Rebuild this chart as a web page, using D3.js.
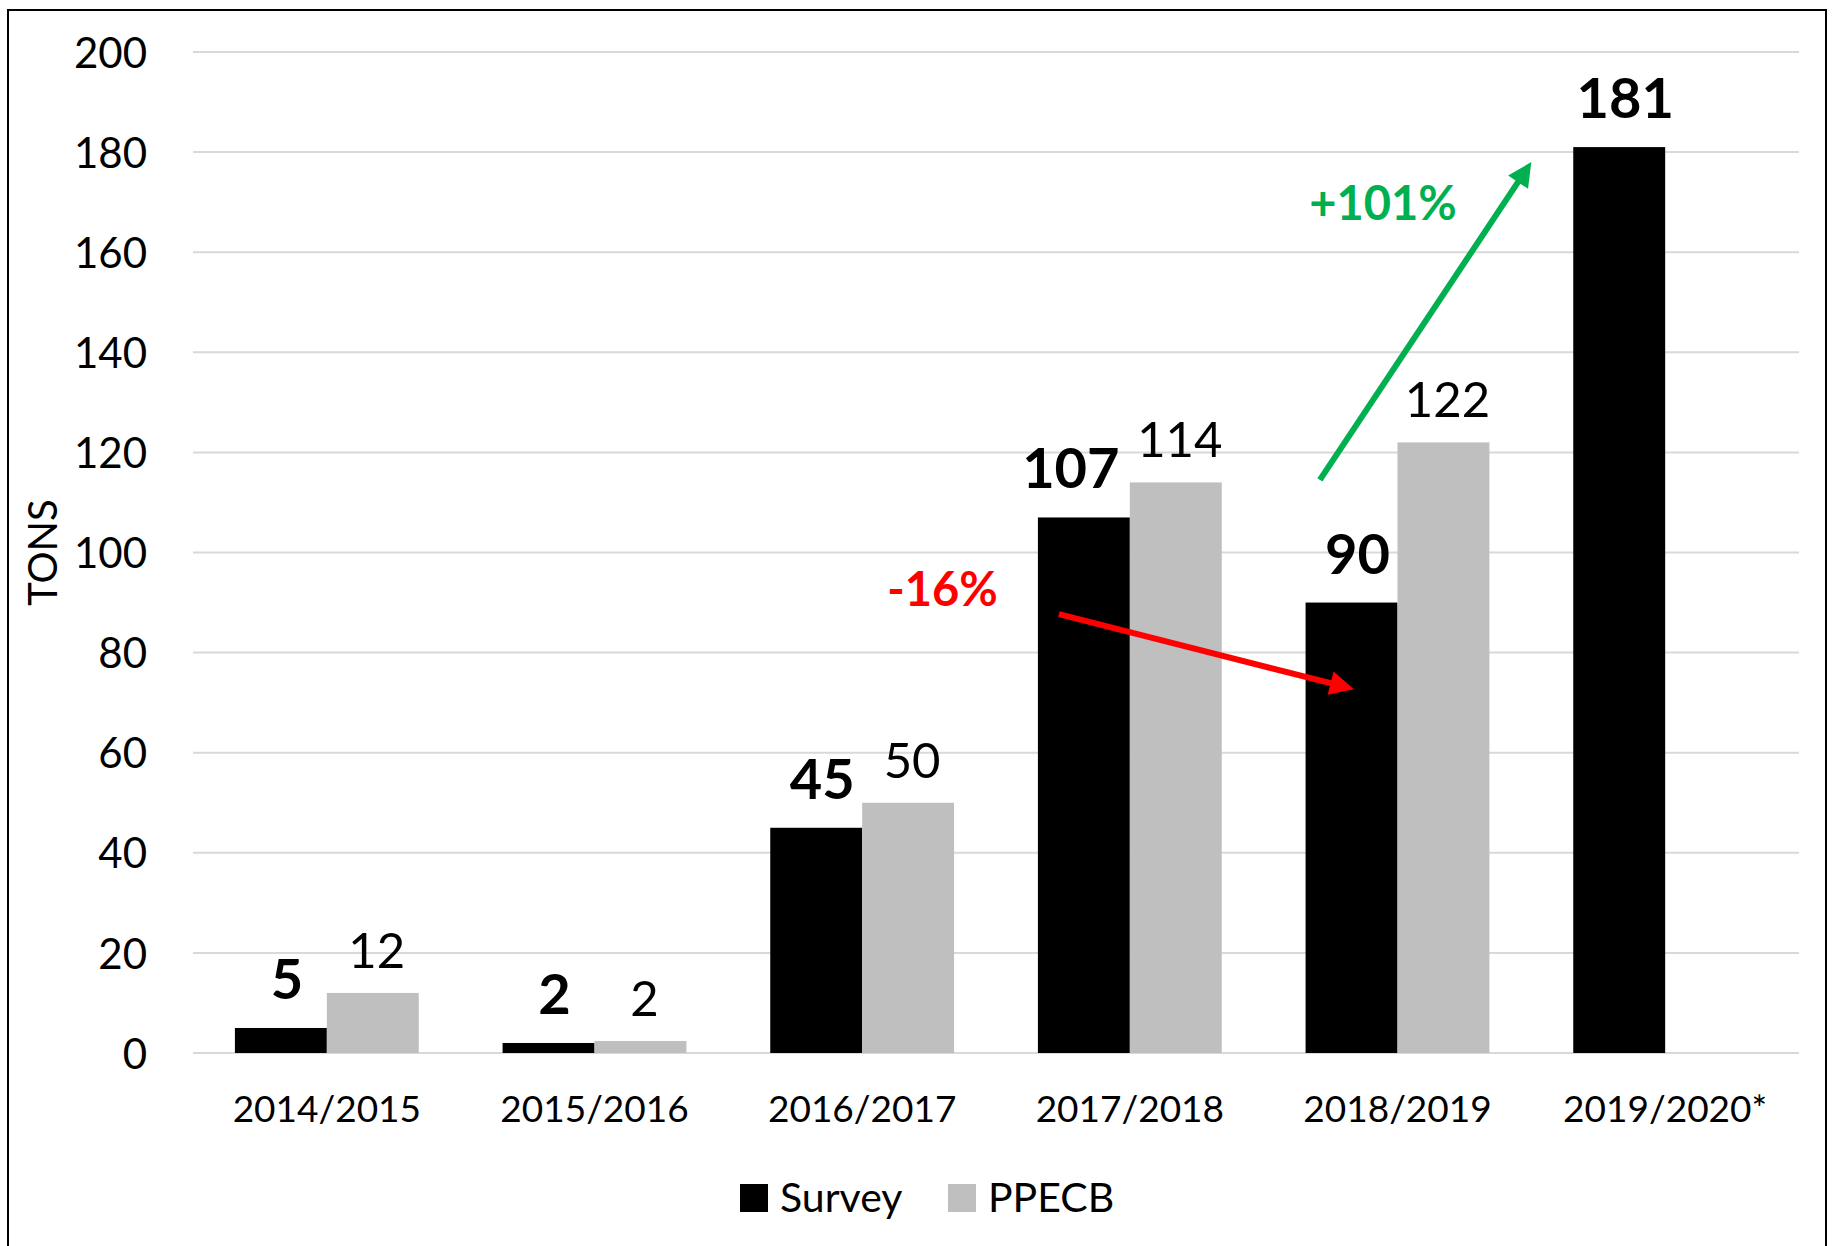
<!DOCTYPE html>
<html>
<head>
<meta charset="utf-8">
<script src="https://cdn.jsdelivr.net/npm/d3@7"></script>
<style>
  html, body { margin: 0; padding: 0; background: #fff; }
  svg { display: block; }
  text { font-family: Lato, "Open Sans", sans-serif; }
</style>
</head>
<body>
<svg id="chart" width="1835" height="1246"></svg>
<script>
// ---------- data ----------
const categories = ["2014/2015", "2015/2016", "2016/2017", "2017/2018", "2018/2019", "2019/2020*"];
const seriesNames = ["Survey", "PPECB"];
const surveyValues = [5, 2, 45, 107, 90, 181];
const ppecbValues = [12, 2.4, 50, 114, 122, null];
const yTicks = [0, 20, 40, 60, 80, 100, 120, 140, 160, 180, 200];
const seriesColors = ["#000000", "#BFBFBF"];
// annotations (positions in category-index / value space)
const changeArrows = [
  { label: "-16%",  color: "#FF0000", from: [3.235, 87.7], to: [4.337, 72.7], text: [2.80, 89.3] },
  { label: "+101%", color: "#00B050", from: [4.21, 114.5], to: [5.0, 178.0], text: [4.446, 166.4] }
];

// ---------- layout ----------
const svg = d3.select("#chart");
const plot = { left: 193, right: 1799, top: 52, bottom: 1053 };

// frame
svg.append("rect")
  .attr("x", 8).attr("y", 10).attr("width", 1818).attr("height", 1260)
  .attr("fill", "none").attr("stroke", "#000").attr("stroke-width", 2);

const x = d3.scaleBand().domain(categories).range([plot.left, plot.right]).paddingInner(0).paddingOuter(0);
const xs = d3.scaleBand().domain(seriesNames).range([0, x.bandwidth()]).paddingInner(0).paddingOuter(0.456);
const y = d3.scaleLinear().domain([0, 200]).range([plot.bottom, plot.top]);
const xi = d3.scaleLinear().domain([0, categories.length]).range([plot.left, plot.right]);

// gridlines
svg.append("g").selectAll("line").data(yTicks).join("line")
  .attr("x1", plot.left).attr("x2", plot.right)
  .attr("y1", d => y(d)).attr("y2", d => y(d))
  .attr("stroke", "#D9D9D9").attr("stroke-width", 2);

// y axis labels
const yAxis = d3.axisLeft(y).tickValues(yTicks).tickSize(0).tickPadding(0);
const gy = svg.append("g").attr("transform", `translate(147,0)`).call(yAxis);
gy.select(".domain").remove();
gy.selectAll("text").attr("font-size", 42).attr("fill", "#000")
  .style("font-family", "Lato, 'Open Sans', sans-serif").attr("dy", "0.36em");

// y title
svg.append("text")
  .attr("transform", `translate(57,${(plot.top + plot.bottom) / 2}) rotate(-90)`)
  .attr("text-anchor", "middle").attr("font-size", 40).attr("fill", "#000")
  .text("TONS");

// x axis labels
const xAxis = d3.axisBottom(x).tickSize(0).tickPadding(0);
const gx = svg.append("g").attr("transform", `translate(0,1122)`).call(xAxis);
gx.select(".domain").remove();
gx.selectAll("text").attr("font-size", 37).attr("fill", "#000").attr("dy", 0)
  .style("font-family", "Lato, 'Open Sans', sans-serif");

// bars
const rows = categories.map((c, i) => ({
  cat: c,
  vals: [
    { s: "Survey", v: surveyValues[i], cat: c },
    { s: "PPECB", v: ppecbValues[i], cat: c }
  ].filter(d => d.v != null)
}));

const groups = svg.append("g").selectAll("g").data(rows).join("g")
  .attr("transform", d => `translate(${x(d.cat)},0)`);

groups.selectAll("rect").data(d => d.vals).join("rect")
  .attr("x", d => xs(d.s)).attr("width", xs.bandwidth())
  .attr("y", d => y(d.v)).attr("height", d => y(0) - y(d.v))
  .attr("fill", d => seriesColors[seriesNames.indexOf(d.s)]);

// value labels (survey label moved left where it would collide with the neighbour label)
const labelNudge = d => {
  if (d.s === "Survey") return d.cat === "2017/2018" ? -13 : 6;
  return 4;
};
groups.selectAll("text").data(d => d.vals).join("text")
  .attr("x", d => xs(d.s) + xs.bandwidth() / 2 + labelNudge(d))
  .attr("y", d => y(d.v) - (d.s === "Survey" ? 29 : 25))
  .attr("text-anchor", "middle")
  .attr("font-size", d => d.s === "Survey" ? 56 : 49)
  .attr("font-weight", d => d.s === "Survey" ? 700 : 400)
  .attr("fill", "#000")
  .text(d => d3.format(".0f")(d.v));

// change arrows
changeArrows.forEach(a => {
  const x1 = xi(a.from[0]), y1 = y(a.from[1]);
  const x2 = xi(a.to[0]), y2 = y(a.to[1]);
  const dx = x2 - x1, dy = y2 - y1, len = Math.hypot(dx, dy);
  const ux = dx / len, uy = dy / len, px = -uy, py = ux;
  const headL = 24, headW = 12;
  const bx = x2 - ux * headL, by = y2 - uy * headL;
  svg.append("line")
    .attr("x1", x1).attr("y1", y1).attr("x2", bx + ux * 2).attr("y2", by + uy * 2)
    .attr("stroke", a.color).attr("stroke-width", 6);
  svg.append("path")
    .attr("d", `M${x2},${y2}L${bx + px * headW},${by + py * headW}L${bx - px * headW},${by - py * headW}Z`)
    .attr("fill", a.color);
  svg.append("text")
    .attr("x", xi(a.text[0])).attr("y", y(a.text[1]))
    .attr("text-anchor", "middle").attr("font-size", 47).attr("font-weight", 700)
    .attr("fill", a.color).text(a.label);
});

// legend
const legend = svg.append("g");
const legendItems = [
  { name: "Survey", sx: 740, tx: 780 },
  { name: "PPECB", sx: 948, tx: 988 }
];
legend.selectAll("rect").data(legendItems).join("rect")
  .attr("x", d => d.sx).attr("y", 1184).attr("width", 28).attr("height", 28)
  .attr("fill", (d, i) => seriesColors[i]);
legend.selectAll("text").data(legendItems).join("text")
  .attr("x", d => d.tx).attr("y", 1212).attr("font-size", 41).attr("fill", "#000")
  .text(d => d.name);
</script>
</body>
</html>
